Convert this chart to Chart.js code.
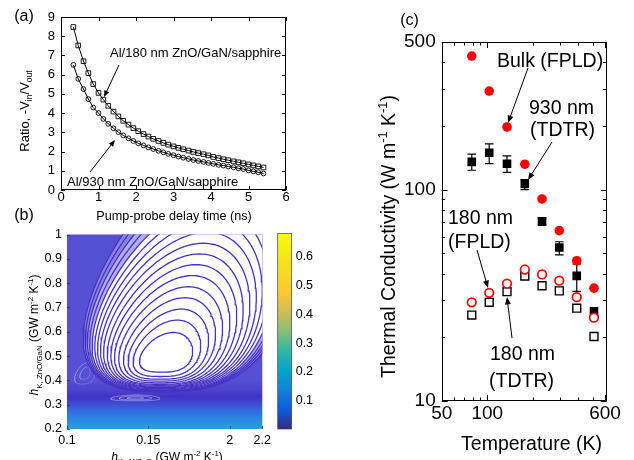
<!DOCTYPE html>
<html>
<head>
<meta charset="utf-8">
<script src="https://cdn.jsdelivr.net/npm/chart.js@4.4.0/dist/chart.umd.min.js"></script>
<style>
  body { margin: 0; background: #fff; width: 634px; height: 460px; position: relative; overflow: hidden; }
  canvas { position: absolute; }
</style>
</head>
<body>
<canvas id="chartA" width="300" height="225" style="left:0;top:0"></canvas>
<canvas id="chartB" width="275" height="238" style="left:0;top:222px"></canvas>
<canvas id="chartBar" width="60" height="238" style="left:270px;top:222px"></canvas>
<canvas id="chartC" width="304" height="460" style="left:330px;top:0"></canvas>
<script>
// ---- panel (a): ratio vs delay time
const timeNs = [0.33, 0.46, 0.60, 0.73, 0.86, 1.00, 1.13, 1.26, 1.40, 1.53, 1.66, 1.80, 1.93,
  2.06, 2.20, 2.33, 2.46, 2.60, 2.73, 2.86, 3.00, 3.13, 3.26, 3.40, 3.53, 3.66, 3.80, 3.93,
  4.06, 4.20, 4.33, 4.46, 4.60, 4.73, 4.86, 5.00, 5.13, 5.26, 5.40];
const ratio180 = [8.48, 7.52, 6.70, 6.08, 5.51, 5.05, 4.70, 4.38, 4.08, 3.83, 3.60, 3.40, 3.22,
  3.06, 2.91, 2.78, 2.66, 2.55, 2.45, 2.36, 2.27, 2.19, 2.12, 2.05, 1.98, 1.92, 1.86, 1.80,
  1.72, 1.66, 1.60, 1.55, 1.49, 1.44, 1.39, 1.33, 1.28, 1.23, 1.17];
const ratio930 = [6.51, 5.78, 5.25, 4.73, 4.29, 4.00, 3.70, 3.44, 3.21, 3.01, 2.84, 2.69, 2.55,
  2.43, 2.32, 2.22, 2.13, 2.04, 1.96, 1.88, 1.81, 1.74, 1.68, 1.62, 1.56, 1.51, 1.46, 1.41,
  1.36, 1.31, 1.27, 1.22, 1.18, 1.13, 1.09, 1.02, 0.97, 0.92, 0.86];
const aXTicks = [0, 1, 2, 3, 4, 5, 6];
const aYTicks = [0, 1, 2, 3, 4, 5, 6, 7, 8, 9];

// ---- panel (b): contour rings (top, bottom, widest left / right)
const ringTop = [0.597, 0.648, 0.693, 0.740, 0.785, 0.831, 0.876, 0.920, 0.964, 1.009, 1.054, 1.099, 1.144, 1.189, 1.234, 1.279, 1.324];
const ringBottom = [0.434, 0.416, 0.405, 0.397, 0.390, 0.384, 0.380, 0.376, 0.373, 0.370, 0.367, 0.364, 0.361, 0.359, 0.357, 0.355, 0.353];
const ringLeft = [0.1450, 0.1413, 0.1384, 0.1358, 0.1331, 0.1307, 0.1286, 0.1266, 0.1245, 0.1228, 0.1212, 0.1197, 0.1183, 0.1170, 0.1158, 0.1147, 0.1137];
const ringRight = [0.1767, 0.1813, 0.1859, 0.1899, 0.1940, 0.1982, 0.2022, 0.2059, 0.2098, 0.2135, 0.2169, 0.2203, 0.2236, 0.2270, 0.2300, 0.2330, 0.2360];
// faint moire spots in the dense part of the map
const spotCx = [0.142, 0.142, 0.142, 0.111, 0.111];
const spotCy = [0.328, 0.328, 0.328, 0.43, 0.43];
const spotRx = [0.005, 0.010, 0.015, 0.003, 0.006];
const spotRy = [0.004, 0.008, 0.012, 0.025, 0.045];
const bXTicks = [0.1, 0.15, 0.2, 0.22];
const bXLabels = ['0.1', '0.15', '2', '2.2'];
const bYTicks = [0.2, 0.3, 0.4, 0.5, 0.6, 0.7, 0.8, 0.9, 1.0];
const bYLabels = ['0.2', '0.3', '0.4', '0.5', '0.6', '0.7', '0.8', '0.9', '1'];
const cbarRange = [0.003, 0.679];
const cbarTicks = [0.1, 0.2, 0.3, 0.4, 0.5, 0.6];

// ---- panel (c): thermal conductivity vs temperature
const tempK = [79, 103, 135, 177, 230, 299, 390, 507];
const bulkFPLD = [429, 293, 198, 132, 90.4, 64, 46.1, 34.2];
const tdtr930 = [135.5, 149.5, 132.6, 106.5, 70.8, 53.3, 39.1, 26.3];
const err930Low = [123.6, 133, 120.9, 100.1, 68, 49.2, 33, 25.1];
const err930High = [147.2, 164.9, 144.7, 111.7, 73.5, 56.7, 44.5, 27.7];
const fpld180 = [29.3, 32.5, 35.9, 41.9, 39.7, 37.1, 31.0, 24.8];
const tdtr180 = [25.5, 29.3, 32.9, 39.0, 35.1, 33.2, 27.5, 20.2];
const cXTicks = [50, 60, 70, 80, 90, 100, 200, 300, 400, 500, 600];
const cXLabeled = [50, 100, 600];
const cYTicks = [10, 20, 30, 40, 50, 60, 70, 80, 90, 100, 200, 300, 400, 500];
const cYLabeled = [10, 100, 500];

const FONT = '"Liberation Sans", Arial, sans-serif';
Chart.defaults.font.family = FONT;
Chart.defaults.color = '#000';

const parula = [[0, '#352a87'], [0.1, '#0f5cdd'], [0.2, '#1481d6'], [0.3, '#06a4ca'], [0.4, '#2eb7a4'],
  [0.5, '#87bf77'], [0.6, '#d1bb59'], [0.7, '#fec832'], [0.85, '#f5e11d'], [1, '#f9fb0e']];
const contourBgStops = [[0.2, '#24a3da'], [0.24, '#2a88e2'], [0.28, '#3566de'], [0.31, '#4046d2'],
  [0.335, '#4332c4'], [0.36, '#4c43cf'], [0.4, '#5650d4']];
const ringFill = { 12: '#ffffff', 14: '#b2aeee', 16: '#8a85e2' };
const spotColor = ['rgba(255,255,255,0.35)', 'rgba(255,255,255,0.35)', 'rgba(255,255,255,0.35)',
  'rgba(255,255,255,0.18)', 'rgba(255,255,255,0.18)'];
const ringEgg = 1.4, ringShear = 0.045;

function seg(t, kind) { return { t, kind: kind || '' }; }

function richText(ctx, segs, x, y, size, rot, align) {
  ctx.save();
  ctx.translate(x, y);
  if (rot) ctx.rotate(rot);
  ctx.fillStyle = '#000';
  ctx.textBaseline = 'alphabetic';
  ctx.textAlign = 'left';
  const fontOf = s => (s.kind.includes('i') ? 'italic ' : '') +
    ((s.kind.includes('sub') || s.kind.includes('sup')) ? size * 0.66 : size) + 'px ' + FONT;
  let w = 0;
  segs.forEach(s => { ctx.font = fontOf(s); w += ctx.measureText(s.t).width; });
  let cx = align === 'left' ? 0 : -w / 2;
  const base = size * 0.35;
  segs.forEach(s => {
    ctx.font = fontOf(s);
    let dy = base;
    if (s.kind.includes('sub')) dy += size * 0.28;
    if (s.kind.includes('sup')) dy -= size * 0.42;
    ctx.fillText(s.t, cx, dy);
    cx += ctx.measureText(s.t).width;
  });
  ctx.restore();
}

function arrow(ctx, x1, y1, x2, y2, head) {
  const ang = Math.atan2(y2 - y1, x2 - x1);
  ctx.save();
  ctx.strokeStyle = '#000';
  ctx.fillStyle = '#000';
  ctx.lineWidth = 1;
  ctx.beginPath();
  ctx.moveTo(x1, y1);
  ctx.lineTo(x2 - Math.cos(ang) * head * 0.8, y2 - Math.sin(ang) * head * 0.8);
  ctx.stroke();
  ctx.beginPath();
  ctx.moveTo(x2, y2);
  ctx.lineTo(x2 - head * Math.cos(ang - 0.38), y2 - head * Math.sin(ang - 0.38));
  ctx.lineTo(x2 - head * Math.cos(ang + 0.38), y2 - head * Math.sin(ang + 0.38));
  ctx.closePath();
  ctx.fill();
  ctx.restore();
}

// box + inward ticks drawn from the scales' own tick lists
function drawFrame(chart, o) {
  const { ctx, chartArea: a, scales } = chart;
  ctx.save();
  ctx.strokeStyle = o.color || '#000';
  ctx.lineWidth = o.lw || 1;
  if (o.box) ctx.strokeRect(Math.round(a.left) + 0.5, Math.round(a.top) + 0.5,
    Math.round(a.right - a.left) - 1, Math.round(a.bottom - a.top) - 1);
  ctx.beginPath();
  scales.x.ticks.forEach(t => {
    const p = Math.round(scales.x.getPixelForValue(t.value)) + 0.5;
    const len = t.label !== '' ? o.len : o.minor;
    ctx.moveTo(p, a.bottom); ctx.lineTo(p, a.bottom - len);
    if (o.mirror) { ctx.moveTo(p, a.top); ctx.lineTo(p, a.top + len); }
  });
  scales.y.ticks.forEach(t => {
    const p = Math.round(scales.y.getPixelForValue(t.value)) + 0.5;
    const len = t.label !== '' ? o.len : o.minor;
    ctx.moveTo(a.left, p); ctx.lineTo(a.left + len, p);
    if (o.mirror) { ctx.moveTo(a.right, p); ctx.lineTo(a.right - len, p); }
  });
  ctx.stroke();
  ctx.restore();
}

const common = {
  responsive: false, animation: false, devicePixelRatio: 1, events: [],
  plugins: { legend: { display: false }, tooltip: { enabled: false } }
};

// ================= panel (a)
const decorA = {
  id: 'decorA',
  afterDraw(chart) {
    const ctx = chart.ctx;
    drawFrame(chart, { box: true, mirror: true, len: 4, minor: 4 });
    richText(ctx, [seg('(a)')], 24, 15, 16, 0);
    richText(ctx, [seg('(b)')], 24, 214, 16, 0);
    richText(ctx, [seg('Ratio, -V'), seg('in', 'sub'), seg('/V'), seg('out', 'sub')], 24, 111, 13, -Math.PI / 2);
    richText(ctx, [seg('Pump-probe delay time (ns)')], 174, 216, 12.6, 0);
    richText(ctx, [seg('Al/180 nm ZnO/GaN/sapphire')], 110, 52, 13, 0, 'left');
    richText(ctx, [seg('Al/930 nm ZnO/GaN/sapphire')], 67, 181, 13, 0, 'left');
    arrow(ctx, 119, 65, 104, 97, 7);
    arrow(ctx, 90, 172, 115, 140, 7);
  }
};

new Chart(document.getElementById('chartA'), {
  type: 'scatter',
  data: {
    datasets: [
      {
        data: timeNs.map((t, i) => ({ x: t, y: ratio180[i] })),
        showLine: true, borderColor: '#000', borderWidth: 1,
        pointStyle: 'rect', pointRadius: 3.3, pointBorderWidth: 0.9,
        pointBorderColor: '#000', pointBackgroundColor: 'rgba(255,255,255,0)'
      },
      {
        data: timeNs.map((t, i) => ({ x: t, y: ratio930[i] })),
        showLine: true, borderColor: '#000', borderWidth: 1,
        pointStyle: 'circle', pointRadius: 2.4, pointBorderWidth: 0.9,
        pointBorderColor: '#000', pointBackgroundColor: 'rgba(255,255,255,0)'
      }
    ]
  },
  options: {
    ...common,
    layout: { padding: { left: 0, top: 17, right: 14, bottom: 0 } },
    scales: {
      x: {
        type: 'linear', min: 0, max: 6,
        afterBuildTicks: s => { s.ticks = aXTicks.map(v => ({ value: v })); },
        grid: { display: false, drawTicks: false }, border: { display: false },
        ticks: { padding: 0, maxRotation: 0, autoSkip: false, font: { size: 13 } },
        afterFit: s => { s.height = 35; }
      },
      y: {
        type: 'linear', min: 0, max: 9,
        afterBuildTicks: s => { s.ticks = aYTicks.map(v => ({ value: v })); },
        grid: { display: false, drawTicks: false }, border: { display: false },
        ticks: { padding: 6, autoSkip: false, font: { size: 13 } },
        afterFit: s => { s.width = 61; }
      }
    }
  },
  plugins: [decorA]
});

// ================= panel (b)
// egg-shaped closed curve through the read extents of each ring
function ringPoints(left, right, bottom, top) {
  const pts = [];
  const cx = (left + right) / 2, rx = (right - left) / 2;
  const yWide = bottom + (top - bottom) * Math.pow(0.5, ringEgg);
  for (let j = 0; j <= 120; j++) {
    const th = j / 120 * 2 * Math.PI;
    const y = bottom + (top - bottom) * Math.pow((1 + Math.sin(th)) / 2, ringEgg);
    pts.push({ x: cx + rx * Math.cos(th) + ringShear * (y - yWide), y });
  }
  return pts;
}

const ringSets = ringTop.map((top, k) => ({
  data: ringPoints(ringLeft[k], ringRight[k], ringBottom[k], top),
  showLine: true, pointRadius: 0, borderColor: '#4633c4', borderWidth: 1.3,
  fill: ringFill[k] ? 'shape' : false, backgroundColor: ringFill[k] || 'transparent'
}));
const spotSets = spotCx.map((cx, k) => ({
  data: ringPoints(cx - spotRx[k], cx + spotRx[k], spotCy[k] - spotRy[k], spotCy[k] + spotRy[k]),
  showLine: true, pointRadius: 0, borderColor: spotColor[k], borderWidth: 1, fill: false
}));

const decorB = {
  id: 'decorB',
  beforeDatasetsDraw(chart) {
    const { ctx, chartArea: a, scales: { y } } = chart;
    const p0 = y.getPixelForValue(0.2), p1 = y.getPixelForValue(0.4);
    const g = ctx.createLinearGradient(0, p0, 0, p1);
    contourBgStops.forEach(([v, c]) => g.addColorStop((v - 0.2) / 0.2, c));
    ctx.save();
    ctx.fillStyle = g;
    ctx.fillRect(a.left, a.top, a.right - a.left, a.bottom - a.top);
    ctx.restore();
  },
  afterDraw(chart) {
    const ctx = chart.ctx;
    drawFrame(chart, { box: false, mirror: false, len: 3, minor: 3, color: '#333', lw: 0.8 });
    richText(ctx, [seg('h', 'i'), seg('K, ZnO/GaN', 'sub'), seg(' (GW m'), seg('-2', 'sup'), seg(' K'), seg('-1', 'sup'), seg(')')],
      34, 113, 12, -Math.PI / 2);
    richText(ctx, [seg('h', 'i'), seg('K, Al/ZnO', 'sub'), seg(' (GW m'), seg('-2', 'sup'), seg(' K'), seg('-1', 'sup'), seg(')')],
      167, 234.5, 12, 0);
  }
};

new Chart(document.getElementById('chartB'), {
  type: 'scatter',
  data: { datasets: ringSets.concat(spotSets) },
  options: {
    ...common,
    layout: { padding: { left: 0, top: 10, right: 12.7, bottom: 0 } },
    scales: {
      x: {
        type: 'linear', min: 0.1, max: 0.22,
        afterBuildTicks: s => { s.ticks = bXTicks.map(v => ({ value: v })); },
        grid: { display: false, drawTicks: false }, border: { display: false },
        ticks: { padding: 4, maxRotation: 0, autoSkip: false, font: { size: 12.5 },
          callback: (v, i) => bXLabels[i] },
        afterFit: s => { s.height = 31; }
      },
      y: {
        type: 'linear', min: 0.2, max: 1,
        afterBuildTicks: s => { s.ticks = bYTicks.map(v => ({ value: v })); },
        grid: { display: false, drawTicks: false }, border: { display: false },
        ticks: { padding: 5, autoSkip: false, font: { size: 12.5 },
          callback: (v, i) => bYLabels[i] },
        afterFit: s => { s.width = 67; }
      }
    }
  },
  plugins: [decorB]
});

// colour bar
new Chart(document.getElementById('chartBar'), {
  type: 'bar',
  data: {
    labels: [''],
    datasets: [{
      data: [cbarRange],
      barPercentage: 1, categoryPercentage: 1, borderWidth: 0,
      backgroundColor: c => {
        const a = c.chart.chartArea;
        if (!a) return parula[0][1];
        const g = c.chart.ctx.createLinearGradient(0, a.bottom, 0, a.top);
        parula.forEach(([p, col]) => g.addColorStop(p, col));
        return g;
      }
    }]
  },
  options: {
    ...common,
    layout: { padding: { left: 7.7, top: 10, right: 0, bottom: 31 } },
    scales: {
      x: { display: false },
      y: {
        position: 'right', min: cbarRange[0], max: cbarRange[1],
        afterBuildTicks: s => { s.ticks = cbarTicks.map(v => ({ value: v })); },
        grid: { display: false, drawTicks: false }, border: { display: false },
        ticks: { padding: 4, autoSkip: false, font: { size: 12.5 } },
        afterFit: s => { s.width = 38.3; }
      }
    }
  },
  plugins: [{
    id: 'cbarBox',
    afterDraw(chart) {
      const { ctx, chartArea: a } = chart;
      ctx.save();
      ctx.strokeStyle = '#444';
      ctx.lineWidth = 0.7;
      ctx.strokeRect(a.left, a.top, a.right - a.left, a.bottom - a.top);
      ctx.restore();
    }
  }]
});

// ================= panel (c)
const decorC = {
  id: 'decorC',
  beforeDatasetsDraw(chart) {
    const { ctx, scales: { x, y } } = chart;
    ctx.save();
    ctx.strokeStyle = '#000';
    ctx.lineWidth = 1.2;
    ctx.beginPath();
    tempK.forEach((t, i) => {
      const px = x.getPixelForValue(t);
      const lo = y.getPixelForValue(err930Low[i]), hi = y.getPixelForValue(err930High[i]);
      ctx.moveTo(px, lo); ctx.lineTo(px, hi);
      ctx.moveTo(px - 4.3, lo); ctx.lineTo(px + 4.3, lo);
      ctx.moveTo(px - 4.3, hi); ctx.lineTo(px + 4.3, hi);
    });
    ctx.stroke();
    ctx.restore();
  },
  afterDraw(chart) {
    const ctx = chart.ctx;
    drawFrame(chart, { box: true, mirror: true, len: 6, minor: 3.5 });
    const s = 19.5;
    richText(ctx, [seg('(c)')], 79.5, 19, 16, 0);
    richText(ctx, [seg('Thermal Conductivity (W m'), seg('-1', 'sup'), seg(' K'), seg('-1', 'sup'), seg(')')],
      58, 236.5, s, -Math.PI / 2);
    richText(ctx, [seg('Temperature (K)')], 201.5, 443, s, 0);
    richText(ctx, [seg('Bulk (FPLD)')], 167, 60, s, 0, 'left');
    richText(ctx, [seg('930 nm')], 199, 107, s, 0, 'left');
    richText(ctx, [seg('(TDTR)')], 200, 129, s, 0, 'left');
    richText(ctx, [seg('180 nm')], 118, 217, s, 0, 'left');
    richText(ctx, [seg('(FPLD)')], 118, 241, s, 0, 'left');
    richText(ctx, [seg('180 nm')], 160, 353, s, 0, 'left');
    richText(ctx, [seg('(TDTR)')], 159, 380, s, 0, 'left');
    arrow(ctx, 198, 68, 178, 123, 8);
    arrow(ctx, 222, 142, 198, 180, 8);
    arrow(ctx, 147, 250, 158, 288, 8);
    arrow(ctx, 182, 338, 177, 297, 8);
  }
};

new Chart(document.getElementById('chartC'), {
  type: 'scatter',
  data: {
    datasets: [
      {
        data: tempK.map((t, i) => ({ x: t, y: fpld180[i] })),
        pointStyle: 'circle', pointRadius: 4.3, pointBorderWidth: 1.7,
        pointBorderColor: '#ff0000', pointBackgroundColor: '#ffffff'
      },
      {
        data: tempK.map((t, i) => ({ x: t, y: bulkFPLD[i] })),
        pointStyle: 'circle', pointRadius: 4.8, pointBorderWidth: 0,
        pointBorderColor: '#ff0000', pointBackgroundColor: '#ff0000'
      },
      {
        data: tempK.map((t, i) => ({ x: t, y: tdtr930[i] })),
        pointStyle: 'rect', pointRadius: 6.1, pointBorderWidth: 0,
        pointBorderColor: '#000', pointBackgroundColor: '#000'
      },
      {
        data: tempK.map((t, i) => ({ x: t, y: tdtr180[i] })),
        pointStyle: 'rect', pointRadius: 5.6, pointBorderWidth: 1.4,
        pointBorderColor: '#000', pointBackgroundColor: '#ffffff'
      }
    ]
  },
  options: {
    ...common,
    layout: { padding: { left: 0, top: 42, right: 27.3, bottom: 0 } },
    scales: {
      x: {
        type: 'logarithmic', min: 50, max: 615,
        afterBuildTicks: s => { s.ticks = cXTicks.map(v => ({ value: v })); },
        grid: { display: false, drawTicks: false }, border: { display: false },
        ticks: { padding: 1, maxRotation: 0, autoSkip: false, font: { size: 19 },
          callback: v => cXLabeled.includes(v) ? String(v) : '' },
        afterFit: s => { s.height = 59; }
      },
      y: {
        type: 'logarithmic', min: 10, max: 500,
        afterBuildTicks: s => { s.ticks = cYTicks.map(v => ({ value: v })); },
        grid: { display: false, drawTicks: false }, border: { display: false },
        ticks: { padding: 6, autoSkip: false, font: { size: 19 },
          callback: v => cYLabeled.includes(v) ? String(v) : '' },
        afterFit: s => { s.width = 111.7; }
      }
    }
  },
  plugins: [decorC]
});
</script>
</body>
</html>
